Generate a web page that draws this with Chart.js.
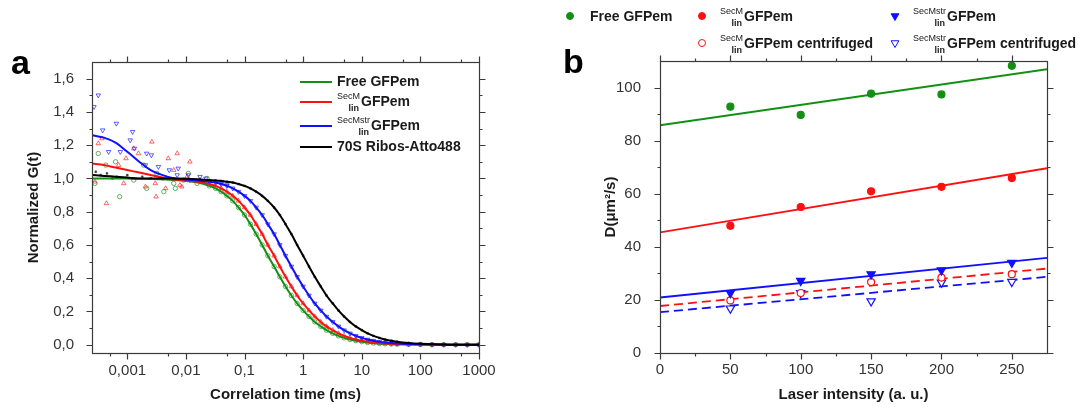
<!DOCTYPE html>
<html>
<head>
<meta charset="utf-8">
<script src="https://cdn.jsdelivr.net/npm/chart.js@4.4.1/dist/chart.umd.min.js"></script>
<style>
html, body { margin: 0; padding: 0; background: #fff; }
#wrap { position: relative; width: 1086px; height: 408px; overflow: hidden; }
canvas { position: absolute; top: 0; }
#chartA { left: 0; }
#chartB { left: 546px; }
</style>
</head>
<body>
<div id="wrap">
  <canvas id="chartA" width="546" height="408"></canvas>
  <canvas id="chartB" width="540" height="408"></canvas>
</div>
<script>
// ---- panel a: normalized autocorrelation curves ----
const corrTimes = [0.00025, 0.0004, 0.00063, 0.001, 0.0016, 0.0025, 0.004, 0.0063, 0.01, 0.016,
  0.025, 0.032, 0.04, 0.05, 0.063, 0.079, 0.1, 0.126, 0.158, 0.2, 0.25, 0.32, 0.4, 0.5, 0.63, 0.79,
  1, 1.26, 1.58, 2, 2.5, 3.2, 4, 5, 6.3, 7.9, 10, 12.6, 15.8, 20, 25, 32, 40,
  63, 100, 158, 250, 400, 630, 1000];
const freeFit = [1.0, 1.0, 1.0, 0.999, 0.998, 0.997, 0.995, 0.99, 0.985, 0.975,
  0.955, 0.94, 0.92, 0.895, 0.865, 0.825, 0.78, 0.725, 0.665, 0.60, 0.535, 0.47, 0.408, 0.35, 0.296, 0.248,
  0.206, 0.169, 0.137, 0.11, 0.087, 0.068, 0.053, 0.041, 0.031, 0.024, 0.018, 0.013, 0.01, 0.007, 0.005, 0.004, 0.003,
  0.0015, 0.001, 0, 0, 0, 0, 0];
const secmFit = [1.09, 1.08, 1.065, 1.05, 1.035, 1.02, 1.005, 0.993, 0.988, 0.98,
  0.966, 0.955, 0.94, 0.92, 0.895, 0.865, 0.825, 0.78, 0.725, 0.665, 0.60, 0.535, 0.47, 0.408, 0.35, 0.296,
  0.248, 0.206, 0.169, 0.137, 0.11, 0.087, 0.068, 0.053, 0.041, 0.031, 0.024, 0.018, 0.013, 0.01, 0.007, 0.005, 0.004,
  0.002, 0.001, 0, 0, 0, 0, 0];
const secmstrFit = [1.26, 1.245, 1.215, 1.16, 1.10, 1.05, 1.02, 1.0, 0.993, 0.988,
  0.98, 0.975, 0.966, 0.955, 0.94, 0.92, 0.895, 0.865, 0.825, 0.78, 0.725, 0.665, 0.60, 0.535, 0.47, 0.408,
  0.35, 0.296, 0.248, 0.206, 0.169, 0.137, 0.11, 0.087, 0.068, 0.053, 0.041, 0.031, 0.024, 0.018, 0.013, 0.01, 0.007,
  0.004, 0.002, 0.001, 0, 0, 0, 0];
const riboFit = [1.02, 1.015, 1.01, 1.005, 1.0, 1.0, 1.0, 0.999, 0.998, 0.995,
  0.99, 0.988, 0.985, 0.98, 0.975, 0.966, 0.955, 0.94, 0.92, 0.895, 0.865, 0.825, 0.78, 0.725, 0.665, 0.60,
  0.535, 0.47, 0.408, 0.35, 0.296, 0.248, 0.206, 0.169, 0.137, 0.11, 0.087, 0.068, 0.053, 0.041, 0.031, 0.024, 0.018,
  0.01, 0.005, 0.003, 0.001, 0, 0, 0];

// noisy early measured points [time ms, G]
const freeEarly = [[0.00032, 1.15], [0.00028, 0.97], [0.00063, 1.10], [0.00074, 0.89], [0.00043, 1.08],
  [0.0019, 1.08], [0.00214, 0.94], [0.00129, 0.99], [0.0032, 1.03], [0.0042, 0.92], [0.0062, 0.97],
  [0.011, 1.03], [0.0066, 0.94], [0.0091, 0.99], [0.0155, 0.97], [0.0229, 1.0]];
const secmEarly = [[0.00032, 1.21], [0.00037, 1.24], [0.00028, 0.98], [0.00044, 0.85], [0.00071, 1.08],
  [0.00087, 0.97], [0.00095, 1.12], [0.00129, 1.18], [0.00155, 1.15], [0.00263, 1.22], [0.0031, 0.89],
  [0.00204, 0.95], [0.005, 1.12], [0.0071, 1.15], [0.0062, 1.05], [0.0085, 0.95], [0.0117, 1.10],
  [0.0105, 1.01], [0.0174, 0.99], [0.0045, 0.94], [0.0079, 0.96], [0.003, 0.97]];
const secmstrEarly = [[0.00027, 1.43], [0.00032, 1.50], [0.00038, 1.29], [0.00065, 1.33], [0.00048, 1.16],
  [0.00123, 1.28], [0.00112, 1.23], [0.00076, 1.16], [0.00132, 1.18], [0.00214, 1.15], [0.00257, 1.14],
  [0.00204, 1.08], [0.0034, 1.07], [0.0052, 1.05], [0.0074, 1.06], [0.0071, 1.02], [0.011, 1.02],
  [0.0174, 1.01], [0.0219, 1.0], [0.0117, 0.99], [0.041, 0.98], [0.05, 0.96]];
const riboEarly = [[0.00029, 1.04], [0.00035, 1.02], [0.00045, 1.03], [0.00066, 1.01], [0.001, 1.02],
  [0.0012, 1.0], [0.0025, 1.0], [0.00056, 1.0], [0.0018, 1.01], [0.004, 0.995], [0.0063, 1.0],
  [0.01, 0.99], [0.016, 0.99]];

const timeTicks = [0.001, 0.01, 0.1, 1, 10, 100, 1000];
const timeMinor = [0.0005, 0.005, 0.05, 0.5, 5, 50, 500];
const gTicks = [0, 0.2, 0.4, 0.6, 0.8, 1.0, 1.2, 1.4, 1.6];
const gMinor = [0.1, 0.3, 0.5, 0.7, 0.9, 1.1, 1.3, 1.5];
const seriesA = ['Free GFPem', 'GFPem', 'GFPem', '70S Ribos-Atto488'];

// ---- panel b: diffusion coefficient vs laser intensity ----
const laser = [50, 100, 150, 200, 250];
const dFree = [92.8, 89.7, 97.7, 97.4, 108.2];
const dSecm = [47.9, 55.0, 60.9, 62.6, 65.9];
const dSecmstr = [22.6, 27.2, 29.7, 31.2, 34.0];
const dSecmCentr = [19.8, 22.6, 26.7, 28.4, 29.7];
const dSecmstrCentr = [16.8, 22.6, 19.5, 26.6, 26.8];
const fitX = [0, 275];
const fitFree = [85.8, 106.9];
const fitSecm = [45.4, 69.6];
const fitSecmstr = [20.9, 35.8];
const fitSecmCentr = [17.7, 31.8];
const fitSecmstrCentr = [15.4, 28.7];
const laserTicks = [0, 50, 100, 150, 200, 250];
const laserMinor = [25, 75, 125, 175, 225];
const dTicks = [0, 20, 40, 60, 80, 100];
const dMinor = [10, 30, 50, 70, 90];

const FAMILY = '"Liberation Sans", Arial, Helvetica, sans-serif';
const GREEN = '#138f13';
const RED = '#ff1010';
const BLUE = '#1010ff';

function pts(xs, ys) {
    return xs.map((x, i) => ({ x: x, y: ys[i] }));
}

function measured(early, ys) {
    return early.map(p => ({ x: p[0], y: p[1] })).concat(pts(corrTimes.slice(10), ys.slice(10)));
}

function frameTicks(id, t) {
    return {
        id: id,
        afterDraw(chart) {
            const ctx = chart.ctx, a = chart.chartArea;
            const sx = chart.scales.x, sy = chart.scales.y;
            const L = Math.round(a.left) + 0.5, R = Math.round(a.right) + 0.5;
            const T = Math.round(a.top) + 0.5, B = Math.round(a.bottom) + 0.5;
            ctx.save();
            ctx.strokeStyle = '#3a3a3a';
            ctx.lineWidth = 1.2;
            ctx.strokeRect(L, T, R - L, B - T);
            ctx.beginPath();
            const xt = (list, len) => list.forEach(v => {
                const p = Math.round(sx.getPixelForValue(v)) + 0.5;
                ctx.moveTo(p, B); ctx.lineTo(p, B + len);
                ctx.moveTo(p, T); ctx.lineTo(p, T - len);
            });
            const yt = (list, len) => list.forEach(v => {
                const p = Math.round(sy.getPixelForValue(v)) + 0.5;
                ctx.moveTo(L, p); ctx.lineTo(L - len, p);
                ctx.moveTo(R, p); ctx.lineTo(R + len, p);
            });
            xt(t.xMajor, 6); xt(t.xMinor, 3);
            yt(t.yMajor, 6); yt(t.yMinor, 3);
            ctx.stroke();
            ctx.restore();
        }
    };
}

function richLabel(ctx, x, y, main, sup, sub) {
    let x0 = x;
    ctx.fillStyle = '#1a1a1a';
    ctx.textBaseline = 'middle';
    ctx.textAlign = 'left';
    if (sup) {
        ctx.font = '9px ' + FAMILY;
        ctx.fillText(sup, x0, y - 5);
        const w = ctx.measureText(sup).width;
        ctx.font = 'bold 9px ' + FAMILY;
        ctx.textAlign = 'right';
        ctx.fillText(sub, x0 + w - 1, y + 7);
        ctx.textAlign = 'left';
        x0 += w + 1;
    }
    ctx.font = 'bold 14px ' + FAMILY;
    ctx.fillText(main, x0, y);
}

const tickFont = { family: FAMILY, size: 15 };
const titleFont = { family: FAMILY, size: 15, weight: 'bold' };

// ---------------- panel a ----------------
const legendA = {
    id: 'legendA',
    afterDraw(chart) {
        const ctx = chart.ctx;
        ctx.save();
        ctx.fillStyle = '#000';
        ctx.font = 'bold 34px ' + FAMILY;
        ctx.textBaseline = 'alphabetic';
        ctx.fillText('a', 11, 74);
        const colors = [GREEN, RED, BLUE, '#000'];
        const rows = [82, 102, 126, 147];
        const sups = ['', 'SecM', 'SecMstr', ''];
        seriesA.forEach((name, i) => {
            ctx.strokeStyle = colors[i];
            ctx.lineWidth = 2;
            ctx.beginPath();
            ctx.moveTo(300, rows[i]);
            ctx.lineTo(332, rows[i]);
            ctx.stroke();
            richLabel(ctx, 337, rows[i], name, sups[i], 'lin');
        });
        ctx.restore();
    }
};

function fitSet(ys, color) {
    return {
        data: pts(corrTimes, ys), showLine: true, pointRadius: 0, borderColor: color,
        borderWidth: 2, cubicInterpolationMode: 'monotone', order: 0
    };
}

new Chart(document.getElementById('chartA'), {
    type: 'scatter',
    data: {
        datasets: [
            fitSet(riboFit, '#000'),
            fitSet(secmstrFit, BLUE),
            fitSet(secmFit, RED),
            fitSet(freeFit, GREEN),
            { data: measured(riboEarly, riboFit), pointStyle: 'rect', pointRadius: 1.3,
              backgroundColor: 'rgba(0,0,0,0.7)', borderColor: 'rgba(0,0,0,0.7)', borderWidth: 0.5, order: 1 },
            { data: measured(secmstrEarly, secmstrFit), pointStyle: 'triangle', rotation: 180, pointRadius: 2.6,
              backgroundColor: 'rgba(0,0,0,0)', borderColor: 'rgba(30,30,255,0.7)', borderWidth: 1, order: 1 },
            { data: measured(secmEarly, secmFit), pointStyle: 'triangle', pointRadius: 2.6,
              backgroundColor: 'rgba(0,0,0,0)', borderColor: 'rgba(255,40,40,0.7)', borderWidth: 1, order: 1 },
            { data: measured(freeEarly, freeFit), pointStyle: 'circle', pointRadius: 2.2,
              backgroundColor: 'rgba(0,0,0,0)', borderColor: 'rgba(30,150,30,0.7)', borderWidth: 1, order: 1 }
        ]
    },
    options: {
        responsive: false,
        animation: false,
        layout: { padding: { top: 62, right: 67, bottom: 0, left: 0 } },
        plugins: { legend: { display: false }, tooltip: { enabled: false } },
        scales: {
            x: {
                type: 'logarithmic', min: 0.00025, max: 1000,
                afterBuildTicks: s => { s.ticks = timeTicks.map(v => ({ value: v })); },
                afterFit: s => { s.height = 55; },
                grid: { display: false }, border: { display: false },
                ticks: { autoSkip: false, maxRotation: 0, padding: 1, font: tickFont, color: '#333',
                         callback: v => String(v).replace('.', ',') },
                title: { display: true, text: 'Correlation time (ms)', font: titleFont, color: '#1a1a1a',
                         padding: { top: 0, bottom: 4 } }
            },
            y: {
                min: -0.05, max: 1.7,
                afterBuildTicks: s => { s.ticks = gTicks.map(v => ({ value: v })); },
                afterFit: s => { s.width = 92; },
                grid: { display: false }, border: { display: false },
                ticks: { padding: 10, font: tickFont, color: '#333',
                         callback: v => v.toFixed(1).replace('.', ',') },
                title: { display: true, text: 'Normalized G(t)', font: titleFont, color: '#1a1a1a',
                         padding: { top: 25, bottom: 0 } }
            }
        }
    },
    plugins: [frameTicks('frameA', { xMajor: timeTicks, xMinor: timeMinor, yMajor: gTicks, yMinor: gMinor }), legendA]
});

// ---------------- panel b ----------------
const legendB = {
    id: 'legendB',
    afterDraw(chart) {
        const ctx = chart.ctx;
        ctx.save();
        ctx.fillStyle = '#000';
        ctx.font = 'bold 34px ' + FAMILY;
        ctx.textBaseline = 'alphabetic';
        ctx.fillText('b', 17, 73);
        const items = [
            { x: 24, y: 16, style: 'circle', rot: 0, r: 3.5, fill: GREEN, stroke: GREEN, main: 'Free GFPem', sup: '' },
            { x: 156, y: 16, style: 'circle', rot: 0, r: 3.5, fill: RED, stroke: RED, main: 'GFPem', sup: 'SecM' },
            { x: 349, y: 16, style: 'triangle', rot: 180, r: 4.5, fill: BLUE, stroke: BLUE, main: 'GFPem', sup: 'SecMstr' },
            { x: 156, y: 43, style: 'circle', rot: 0, r: 3.5, fill: '#fff', stroke: RED, main: 'GFPem centrifuged', sup: 'SecM' },
            { x: 349, y: 43, style: 'triangle', rot: 180, r: 4.5, fill: '#fff', stroke: BLUE, main: 'GFPem centrifuged', sup: 'SecMstr' }
        ];
        items.forEach(it => {
            ctx.fillStyle = it.fill;
            ctx.strokeStyle = it.stroke;
            ctx.lineWidth = 1;
            Chart.helpers.drawPoint(ctx, { pointStyle: it.style, rotation: it.rot, radius: it.r, borderWidth: 1 }, it.x, it.y);
            richLabel(ctx, it.x + (it.sup ? 18 : 20), it.y + 1, it.main, it.sup, 'lin');
        });
        ctx.restore();
    }
};

function lineSet(ys, color, dash) {
    return { data: pts(fitX, ys), showLine: true, pointRadius: 0, borderColor: color,
             borderWidth: 1.8, borderDash: dash, order: 1 };
}

function markSet(ys, style, rot, r, fill, stroke) {
    return { data: pts(laser, ys), pointStyle: style, rotation: rot, pointRadius: r,
             backgroundColor: fill, borderColor: stroke, borderWidth: 1.2, order: 0 };
}

new Chart(document.getElementById('chartB'), {
    type: 'scatter',
    data: {
        datasets: [
            markSet(dFree, 'circle', 0, 3.5, GREEN, GREEN),
            markSet(dSecm, 'circle', 0, 3.5, RED, RED),
            markSet(dSecmstr, 'triangle', 180, 4.8, BLUE, BLUE),
            markSet(dSecmCentr, 'circle', 0, 3.5, '#fff', RED),
            markSet(dSecmstrCentr, 'triangle', 180, 4.8, '#fff', BLUE),
            lineSet(fitFree, GREEN, []),
            lineSet(fitSecm, RED, []),
            lineSet(fitSecmstr, BLUE, []),
            lineSet(fitSecmCentr, RED, [9, 5]),
            lineSet(fitSecmstrCentr, BLUE, [9, 5])
        ]
    },
    options: {
        responsive: false,
        animation: false,
        layout: { padding: { top: 61, right: 39, bottom: 0, left: 0 } },
        plugins: { legend: { display: false }, tooltip: { enabled: false } },
        scales: {
            x: {
                type: 'linear', min: 0, max: 275,
                afterBuildTicks: s => { s.ticks = laserTicks.map(v => ({ value: v })); },
                afterFit: s => { s.height = 55; },
                grid: { display: false }, border: { display: false },
                ticks: { autoSkip: false, maxRotation: 0, padding: 0, font: tickFont, color: '#333' },
                title: { display: true, text: 'Laser intensity (a. u.)', font: titleFont, color: '#1a1a1a',
                         padding: { top: 0, bottom: 4 } }
            },
            y: {
                min: 0, max: 110,
                afterBuildTicks: s => { s.ticks = dTicks.map(v => ({ value: v })); },
                afterFit: s => { s.width = 114; },
                grid: { display: false }, border: { display: false },
                ticks: { padding: 11, font: tickFont, color: '#333' },
                title: { display: true, text: 'D(\u03bcm\u00b2/s)', font: titleFont, color: '#1a1a1a',
                         padding: { top: 56, bottom: 0 } }
            }
        }
    },
    plugins: [frameTicks('frameB', { xMajor: laserTicks, xMinor: laserMinor, yMajor: dTicks, yMinor: dMinor }), legendB]
});
</script>
</body>
</html>
